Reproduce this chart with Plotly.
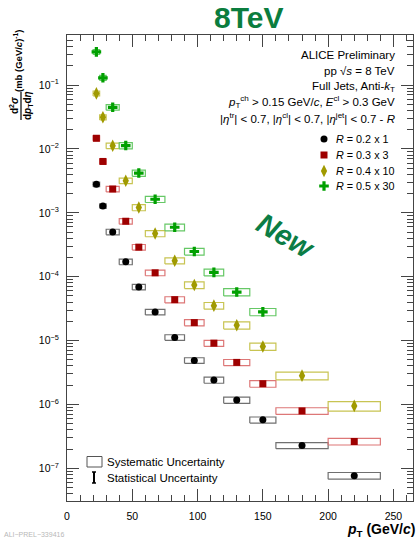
import plotly.graph_objects as go

# ---------------- data ----------------
bin_lo = [20, 25, 30, 40, 50, 60, 75, 90, 105, 120, 140, 160, 200]
bin_hi = [25, 30, 40, 50, 60, 75, 90, 105, 120, 140, 160, 200, 240]
pt = [22.5, 27.5, 35, 45, 55, 67.5, 82.5, 97.5, 112.5, 130, 150, 180, 220]

r02 = [2.79e-3, 1.28e-3, 5.03e-4, 1.71e-4, 6.89e-5, 2.80e-5, 1.12e-5, 4.89e-6,
       2.41e-6, 1.17e-6, 5.73e-7, 2.28e-7, 7.67e-8]
r03 = [1.47e-2, 6.37e-3, 2.36e-3, 7.38e-4, 2.90e-4, 1.15e-4, 4.37e-5, 1.91e-5,
       9.10e-6, 4.55e-6, 2.11e-6, 7.92e-7, 2.63e-7]
r04 = [7.41e-2, 3.13e-2, 1.12e-2, 3.18e-3, 1.21e-3, 4.74e-4, 1.78e-4, 7.40e-5,
       3.52e-5, 1.74e-5, 8.09e-6, 2.82e-6, 9.48e-7]
r05 = [3.31e-1, 1.30e-1, 4.49e-2, 1.13e-2, 4.19e-3, 1.63e-3, 5.94e-4, 2.48e-4,
       1.17e-4, 5.75e-5, 2.81e-5]

# relative systematic uncertainties (box half heights)
sys02 = [0.08, 0.08, 0.10, 0.10, 0.10, 0.10, 0.10, 0.10, 0.11, 0.11, 0.11, 0.11, 0.12]
sys03 = [0.09, 0.09, 0.10, 0.10, 0.10, 0.10, 0.11, 0.11, 0.11, 0.11, 0.12, 0.12, 0.12]
sys04 = [0.09, 0.09, 0.10, 0.10, 0.11, 0.11, 0.11, 0.12, 0.12, 0.13, 0.13, 0.14, 0.17]
sys05 = [0.09, 0.09, 0.10, 0.11, 0.11, 0.11, 0.12, 0.12, 0.12, 0.13, 0.13]
# relative statistical uncertainties
stat02 = [0.005, 0.005, 0.005, 0.01, 0.01, 0.01, 0.02, 0.02, 0.03, 0.03, 0.04, 0.05, 0.08]
stat03 = [0.005, 0.005, 0.005, 0.01, 0.01, 0.01, 0.02, 0.02, 0.03, 0.03, 0.04, 0.05, 0.08]
stat04 = [0.005, 0.005, 0.005, 0.01, 0.01, 0.01, 0.02, 0.02, 0.03, 0.03, 0.04, 0.05, 0.08]
stat05 = [0.005, 0.005, 0.005, 0.01, 0.01, 0.01, 0.02, 0.02, 0.03, 0.03, 0.04]

series_labels = ["<i>R</i> = 0.2 x 1", "<i>R</i> = 0.3 x 3",
                 "<i>R</i> = 0.4 x 10", "<i>R</i> = 0.5 x 30"]

x_ticks = [0, 50, 100, 150, 200, 250]
y_ticks = [1e-7, 1e-6, 1e-5, 1e-4, 1e-3, 1e-2, 1e-1]
y_ticktext = ["10<sup>−7</sup>", "10<sup>−6</sup>", "10<sup>−5</sup>", "10<sup>−4</sup>",
              "10<sup>−3</sup>", "10<sup>−2</sup>", "10<sup>−1</sup>"]

# ---------------- styling ----------------
W, H = 419, 539
L, R, T, B = 67, 6, 35, 38
PW, PH = W - L - R, H - T - B
FONT = "Liberation Sans"


def px(x):
    return (x - L) / PW


def py(y):
    return (H - B - y) / PH


styles = [
    dict(vals=r02, sys=sys02, stat=stat02, color="#000000", box="#707070", symbol="circle", size=7),
    dict(vals=r03, sys=sys03, stat=stat03, color="#9e0000", box="#dd7777", symbol="square", size=7),
    dict(vals=r04, sys=sys04, stat=stat04, color="#a09a00", box="#c8c452", symbol="diamond-tall", size=9),
    dict(vals=r05, sys=sys05, stat=stat05, color="#00a000", box="#66c866", symbol="cross", size=8),
]

fig = go.Figure()

# systematic boxes
for s in styles:
    bx, by = [], []
    for i, v in enumerate(s["vals"]):
        lo, hi = v * (1 - s["sys"][i]), v * (1 + s["sys"][i])
        bx += [bin_lo[i], bin_hi[i], bin_hi[i], bin_lo[i], bin_lo[i], None]
        by += [lo, lo, hi, hi, lo, None]
    fig.add_trace(go.Scatter(x=bx, y=by, mode="lines", line=dict(color=s["box"], width=1.2),
                             hoverinfo="skip", showlegend=False))

# points with statistical errors
for s in styles:
    n = len(s["vals"])
    fig.add_trace(go.Scatter(
        x=pt[:n], y=s["vals"], mode="markers",
        marker=dict(symbol=s["symbol"], size=s["size"], color=s["color"], line=dict(width=0)),
        error_y=dict(type="data", array=[v * e for v, e in zip(s["vals"], s["stat"])],
                     color=s["color"], thickness=1, width=0),
        showlegend=False))

# legend markers on an overlay unit axis
leg_y = [139, 155, 171, 186]
for s, yy in zip(styles, leg_y):
    fig.add_trace(go.Scatter(
        x=[px(324)], y=[py(yy)], xaxis="x2", yaxis="y2", mode="markers",
        marker=dict(symbol=s["symbol"], size=s["size"], color=s["color"], line=dict(width=0)),
        showlegend=False, hoverinfo="skip"))

ann = []
# header text
header = [
    "ALICE Preliminary",
    "pp √<i>s</i> = 8 TeV",
    "Full Jets, Anti-<i>k</i><sub>T</sub>",
    "<i>p</i><sub>T</sub><sup>ch</sup> &gt; 0.15 GeV/<i>c</i>, <i>E</i><sup>cl</sup> &gt; 0.3 GeV",
    "|<i>η</i><sup>tr</sup>| &lt; 0.7, |<i>η</i><sup>cl</sup>| &lt; 0.7, |<i>η</i><sup>jet</sup>| &lt; 0.7 - <i>R</i>",
]
for txt, yy in zip(header, [55, 71, 87, 102, 118]):
    ann.append(dict(text=txt, x=px(397), y=py(yy), xref="paper", yref="paper",
                    xanchor="right", yanchor="middle", showarrow=False,
                    font=dict(family=FONT, size=11.5, color="black")))
for txt, yy in zip(series_labels, leg_y):
    ann.append(dict(text=txt, x=px(334), y=py(yy), xref="paper", yref="paper",
                    xanchor="left", yanchor="middle", showarrow=False,
                    font=dict(family=FONT, size=10.8, color="black")))

# bottom legend
ann.append(dict(text="Systematic Uncertainty", x=px(105), y=py(462), xref="paper", yref="paper",
                xanchor="left", yanchor="middle", showarrow=False,
                font=dict(family=FONT, size=11.5, color="black")))
ann.append(dict(text="Statistical Uncertainty", x=px(105), y=py(477.5), xref="paper", yref="paper",
                xanchor="left", yanchor="middle", showarrow=False,
                font=dict(family=FONT, size=11.5, color="black")))

# 8TeV & New
ann.append(dict(text="<b>8TeV</b>", x=px(248), y=py(17), xref="paper", yref="paper",
                xanchor="center", yanchor="middle", showarrow=False,
                font=dict(family=FONT, size=30, color="#0b7d3e")))
ann.append(dict(text="<b><i>New</i></b>", x=px(286), y=py(236), xref="paper", yref="paper",
                xanchor="center", yanchor="middle", showarrow=False, textangle=30,
                font=dict(family=FONT, size=29, color="#0b7d45")))

# axis titles
ann.append(dict(text="<b><i>p</i><sub>T</sub> (GeV/<i>c</i>)</b>", x=px(417), y=py(530),
                xref="paper", yref="paper", xanchor="right", yanchor="middle", showarrow=False,
                font=dict(family=FONT, size=14, color="black")))
ann.append(dict(text="<b>(mb (GeV/<i>c</i>)<sup>-1</sup>)</b>", x=px(18), y=py(61),
                xref="paper", yref="paper", xanchor="center", yanchor="middle", showarrow=False,
                textangle=-90, font=dict(family=FONT, size=9.5, color="black")))
ann.append(dict(text="<b>d<sup>2</sup><i>σ</i></b>", x=px(14), y=py(106),
                xref="paper", yref="paper", xanchor="center", yanchor="middle", showarrow=False,
                textangle=-90, font=dict(family=FONT, size=10, color="black")))
ann.append(dict(text="<b>d<i>p</i><sub>T</sub>d<i>η</i></b>", x=px(28), y=py(106),
                xref="paper", yref="paper", xanchor="center", yanchor="middle", showarrow=False,
                textangle=-90, font=dict(family=FONT, size=10, color="black")))

ann.append(dict(text="ALI−PREL−339416", x=px(2), y=py(534), xref="paper", yref="paper",
                xanchor="left", yanchor="middle", showarrow=False,
                font=dict(family=FONT, size=7, color="#b8b8b8")))

shapes = [
    # fraction bar
    dict(type="line", xref="paper", yref="paper", x0=px(21), x1=px(21), y0=py(92), y1=py(120),
         line=dict(color="black", width=1.2)),
    # systematic legend box
    dict(type="rect", xref="paper", yref="paper", x0=px(87), x1=px(102), y0=py(467), y1=py(456.5),
         line=dict(color="#555555", width=1)),
    # statistical legend bar
    dict(type="line", xref="paper", yref="paper", x0=px(94), x1=px(94), y0=py(472), y1=py(483),
         line=dict(color="black", width=2)),
    dict(type="line", xref="paper", yref="paper", x0=px(92), x1=px(96), y0=py(472), y1=py(472),
         line=dict(color="black", width=1.5)),
    dict(type="line", xref="paper", yref="paper", x0=px(92), x1=px(96), y0=py(483), y1=py(483),
         line=dict(color="black", width=1.5)),
]

fig.update_layout(
    width=W, height=H, margin=dict(l=L, r=R, t=T, b=B),
    paper_bgcolor="white", plot_bgcolor="white",
    font=dict(family=FONT, size=10.5, color="black"),
    annotations=ann, shapes=shapes, showlegend=False,
    xaxis=dict(range=[0, 265], tickmode="array", tickvals=x_ticks,
               ticks="inside", ticklen=12, tickwidth=1, tickcolor="#444",
               showline=True, linecolor="#444", linewidth=1, mirror="allticks",
               showgrid=False, zeroline=False, ticklabelstandoff=5,
               tickfont=dict(family=FONT, size=10.5),
               minor=dict(ticks="inside", ticklen=6, dtick=10, tickcolor="#444", showgrid=False)),
    yaxis=dict(type="log", range=[-7.512, -0.216], tickmode="array", tickvals=y_ticks,
               ticktext=y_ticktext, ticks="inside", ticklen=12, tickwidth=1, tickcolor="#444",
               showline=True, linecolor="#444", linewidth=1, mirror="allticks",
               showgrid=False, zeroline=False, ticklabelstandoff=5,
               tickfont=dict(family=FONT, size=10.5),
               minor=dict(ticks="inside", ticklen=6, dtick="D1", tickcolor="#444", showgrid=False)),
    xaxis2=dict(overlaying="x", range=[0, 1], visible=False),
    yaxis2=dict(overlaying="y", range=[0, 1], visible=False),
)

fig.write_html("out.html", config={"displayModeBar": False},
               post_script="document.body.style.margin='0px';document.body.style.padding='0px';")
